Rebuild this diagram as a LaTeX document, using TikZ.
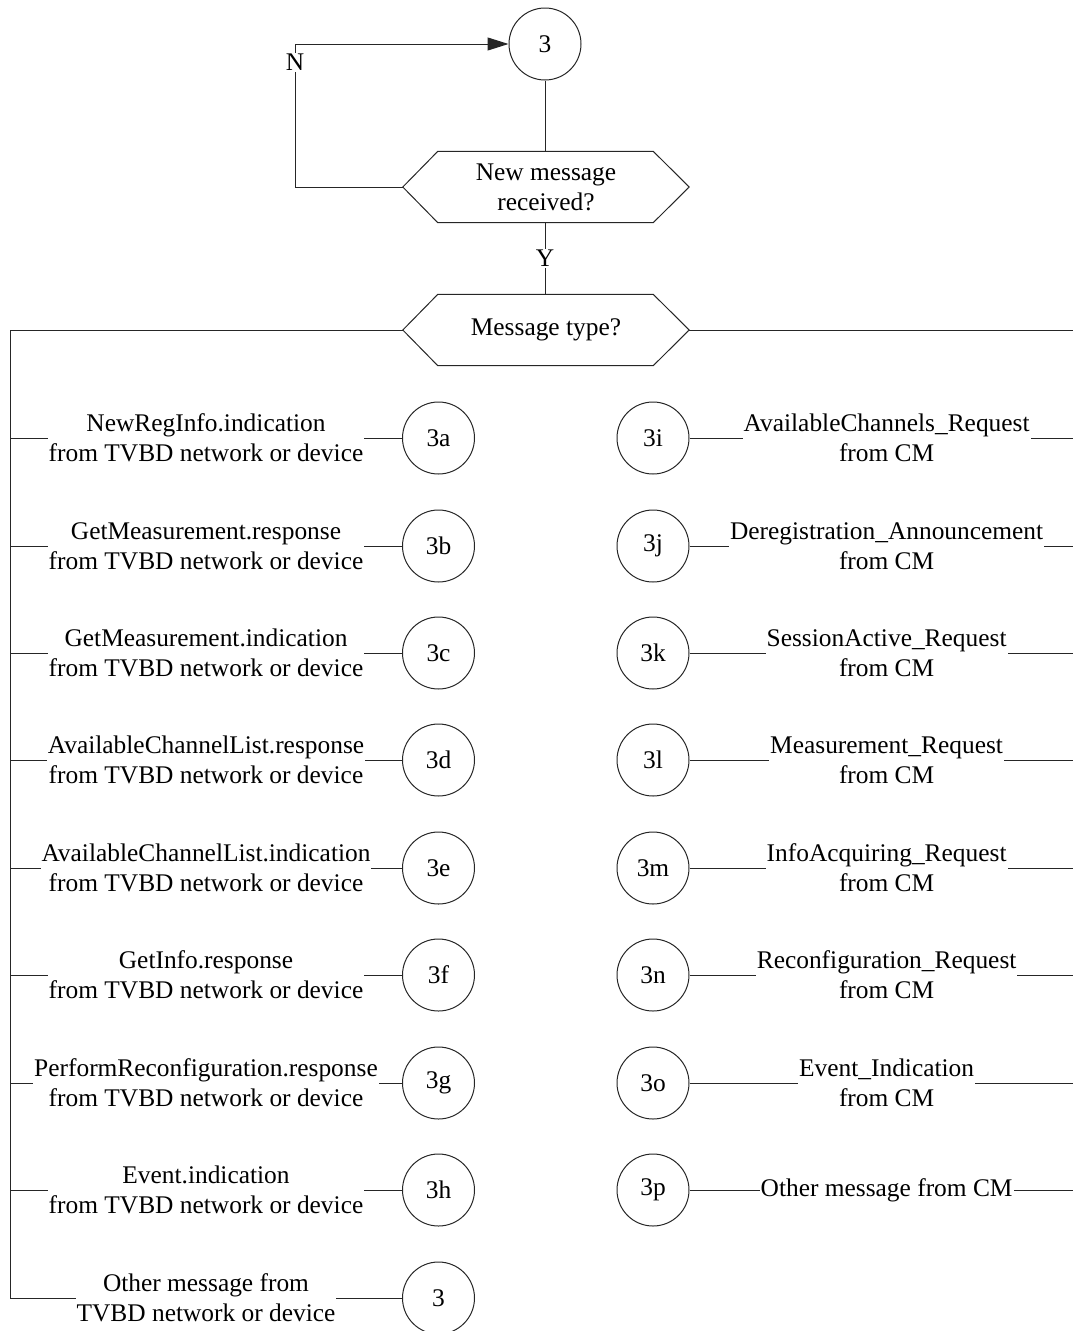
\documentclass[tikz,border=0pt]{standalone}
\usepackage{fontspec}
\setmainfont{Liberation Serif}
\usetikzlibrary{arrows.meta,calc}
\begin{document}
\begin{tikzpicture}[x=1pt,y=-1pt,
  line/.style={draw=black!85, line width=1pt},
  txt/.style={font=\fontsize{25.4}{30}\selectfont},
  conn/.style={txt, circle, draw=black!85, line width=1pt, minimum size=72pt, inner sep=0pt},
  lbl/.style={txt, fill=white, inner sep=1pt, align=center},
  hexbox/.style={txt, minimum width=286pt, minimum height=71pt, inner sep=0pt, align=center},
  hexshape/.style={draw=black!85, line width=1pt}
]
\useasboundingbox (0,0) rectangle (1073,1331);

% top part
\node[conn] (top) at (545,44) {3};
\node[hexbox] (q1) at (546,187) {New message\\received?};
\node[hexbox] (q2) at (546,330) {Message type?};
\foreach \h in {q1,q2}{
  \draw[hexshape] (\h.west) -- ($(\h.north west)+(35,0)$) -- ($(\h.north east)+(-36,0)$)
    -- (\h.east) -- ($(\h.south east)+(-36,0)$) -- ($(\h.south west)+(35,0)$) -- cycle;
}
\coordinate (nl) at (295,187);
\draw[line] (top.south) -- (top.south |- q1.north);
\draw[line, -{Triangle[length=21pt,width=13pt]}] (q1.west) -- (nl) -- (nl |- top.west)
  node[lbl, pos=0.87] {N} -- (top.west);
\draw[line] (q1.south -| top) -- node[lbl] {Y} (q2.north -| top);

% buses
\coordinate (lbus) at (10,330);
\coordinate (rbus) at (1073,330);
\coordinate (lend) at (10,1298);
\draw[line] (q2.west) -- (lbus) -- (lend);
\draw[line] (q2.east) -- (rbus);

% left column
\foreach \n/\y/\t in {
  3a/438/NewRegInfo.indication,
  3b/546/GetMeasurement.response,
  3c/653/GetMeasurement.indication,
  3d/760/AvailableChannelList.response,
  3e/868/AvailableChannelList.indication,
  3f/975/GetInfo.response,
  3g/1083/PerformReconfiguration.response,
  3h/1190/Event.indication}{
  \node[conn] (c\n) at (438.5,\y) {\n};
  \draw[line] (c\n.west) -- node[lbl] {\t\\from TVBD network or device} (c\n.west -| lbus);
}
\node[conn] (cback) at (438.5,1298) {3};
\draw[line] (cback.west) -- node[lbl] {Other message from\\TVBD network or device} (lend);

% right column
\foreach \n/\y/\t in {
  3i/438/AvailableChannels\_Request,
  3j/546/Deregistration\_Announcement,
  3k/653/SessionActive\_Request,
  3l/760/Measurement\_Request,
  3m/868/InfoAcquiring\_Request,
  3n/975/Reconfiguration\_Request,
  3o/1083/Event\_Indication}{
  \node[conn] (c\n) at (653,\y) {\n};
  \draw[line] (c\n.east) -- node[lbl, pos=0.514] {\t\\from CM} (c\n.east -| rbus);
}
\node[conn] (c3p) at (653,1190) {3p};
\coordinate (rend) at (1073,1190);
\draw[line] (c3p.east) -- node[lbl, pos=0.514] {Other message from CM} (rend);
\end{tikzpicture}
\end{document}
